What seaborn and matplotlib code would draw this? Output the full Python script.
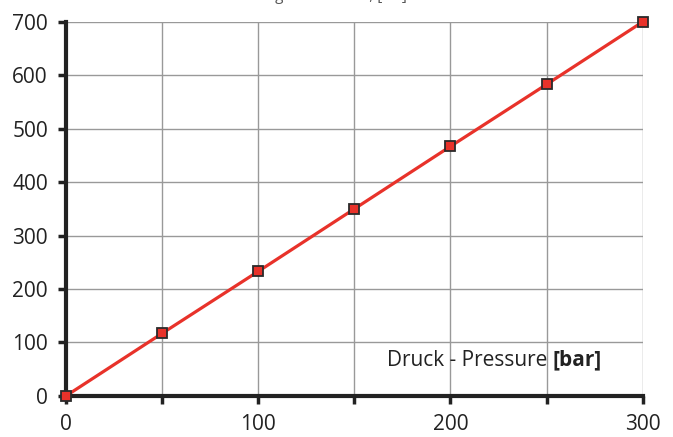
import numpy as np
import pandas as pd
import matplotlib
matplotlib.use('Agg')
import matplotlib.pyplot as plt
import seaborn as sns

pressure = [0, 50, 100, 150, 200, 250, 300]
force = [0, 117, 233, 350, 467, 583, 700]
df = pd.DataFrame({'Pressure': pressure, 'Force': force})

sns.set_style("white")
plt.rcParams['font.family'] = ['Open Sans', 'DejaVu Sans']

fig = plt.figure(figsize=(6.73, 4.37), dpi=100)
ax = fig.add_axes([0.098, 0.094, 0.857, 0.856])

sns.lineplot(data=df, x='Pressure', y='Force', ax=ax, color='#e8322a', linewidth=2.3,
             marker='s', markersize=6.5, markerfacecolor='#e8322a', markeredgecolor='#2a2a2a',
             markeredgewidth=1.3, zorder=5, clip_on=False)

ax.set_xlim(0, 300)
ax.set_ylim(0, 700)
ax.set_xticks(np.arange(0, 301, 50))
ax.set_xticklabels(['0', '', '100', '', '200', '', '300'])
ax.set_yticks(np.arange(0, 701, 100))
ax.grid(True, color='#999999', linewidth=1)
ax.set_xlabel('')
ax.set_ylabel('')

for s in ['top', 'right']:
    ax.spines[s].set_visible(False)
for s in ['left', 'bottom']:
    ax.spines[s].set_linewidth(3)
    ax.spines[s].set_color('#222222')
    ax.spines[s].set_zorder(4)
ax.tick_params(axis='both', direction='out', length=6, width=2.5, color='#222222',
               labelsize=15, labelcolor='#222222')
ax.tick_params(axis='x', pad=7, bottom=True)
ax.tick_params(axis='y', pad=7, left=True)

t1 = ax.text(0.556, 0.096, 'Druck - Pressure ', transform=ax.transAxes, fontsize=15,
             color='#222222', ha='left', va='center')
ax.annotate('[bar]', xy=(1, 0), xycoords=t1, va='bottom', ha='left', fontsize=15,
            fontweight='bold', color='#222222')

# title cut off at the top edge, only the descenders show
fig.text(0.49, 1.0, 'Tragkraft - Force, [kN]', fontsize=11, color='#555555',
         ha='center', va='baseline')

plt.savefig('out.png', dpi=100)
